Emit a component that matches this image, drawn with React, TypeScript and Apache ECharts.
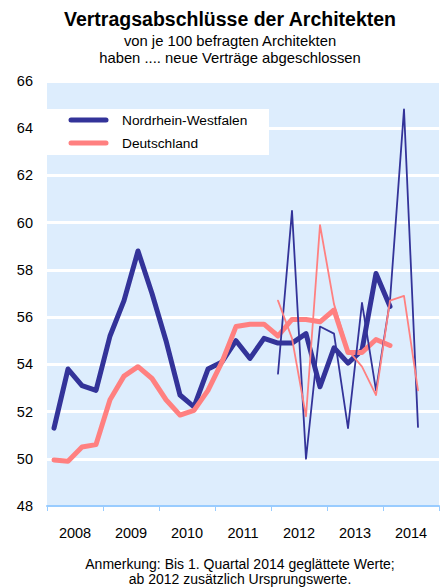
import React, { useEffect, useRef } from 'react';
import * as echarts from 'echarts';

const FONT = '"Liberation Sans", Arial, Helvetica, sans-serif';

const titleText = 'Vertragsabschlüsse der Architekten';
const subtitleLines = ['von je 100 befragten Architekten', 'haben .... neue Verträge abgeschlossen'];
const footnoteLines = ['Anmerkung: Bis 1. Quartal 2014 geglättete Werte;', 'ab 2012 zusätzlich Ursprungswerte.'];

const years = ['2008', '2009', '2010', '2011', '2012', '2013', '2014'];
const quarterNames = ['Q1', 'Q2', 'Q3', 'Q4'];
const quarterLabels = years.flatMap((y) => quarterNames.map((q) => `${y} ${q}`));

const yTicks = { min: 48, max: 66, interval: 2 };

const seriesNames = {
  nrw: 'Nordrhein-Westfalen',
  de: 'Deutschland',
  nrwRaw: 'Nordrhein-Westfalen (Ursprungswerte)',
  deRaw: 'Deutschland (Ursprungswerte)',
};

// geglättete Werte (bis 1. Quartal 2014)
const nrwSmoothed = [
  51.3, 53.8, 53.1, 52.9,
  55.2, 56.7, 58.8, 57.0,
  55.0, 52.7, 52.2, 53.8,
  54.1, 55.0, 54.25, 55.1,
  54.9, 54.9, 55.3, 53.05,
  54.7, 54.05, 54.6, 57.85,
  56.45, null, null, null,
];
const deSmoothed = [
  49.95, 49.9, 50.5, 50.6,
  52.5, 53.5, 53.9, 53.4,
  52.5, 51.85, 52.05, 52.9,
  54.1, 55.6, 55.7, 55.7,
  55.2, 55.9, 55.9, 55.8,
  56.3, 54.5, 54.5, 55.05,
  54.8, null, null, null,
];
// Ursprungswerte (ab 2012)
const nrwRaw = [
  null, null, null, null,
  null, null, null, null,
  null, null, null, null,
  null, null, null, null,
  53.6, 60.5, 50.0, 55.6,
  55.3, 51.3, 56.6, 52.9,
  56.7, 64.8, 51.35, null,
];
const deRaw = [
  null, null, null, null,
  null, null, null, null,
  null, null, null, null,
  null, null, null, null,
  56.7, 55.1, 51.8, 59.9,
  56.55, 54.6, 53.9, 52.7,
  56.7, 56.9, 52.9, null,
];

const NRW_COLOR = '#333399';
const DE_COLOR = '#FF8080';

export default function App() {
  const ref = useRef<HTMLDivElement>(null);

  useEffect(() => {
    if (!ref.current) return;
    const chart = echarts.init(ref.current, undefined, { renderer: 'svg' });

    const lineSeries = (name: string, data: (number | null)[], color: string, width: number, z: number) => ({
      name,
      type: 'line',
      xAxisIndex: 0,
      yAxisIndex: 0,
      data,
      symbol: 'none',
      connectNulls: false,
      z,
      itemStyle: { color },
      lineStyle: { color, width, cap: 'round', join: 'round' },
      emphasis: { disabled: true },
    });

    const textEl = (text: string, x: number, y: number, size: number, bold = false, lineHeight?: number) => ({
      type: 'text',
      x,
      y,
      z: 100,
      silent: true,
      style: {
        text,
        fill: '#000',
        fontSize: size,
        fontWeight: bold ? 'bold' : 'normal',
        fontFamily: FONT,
        align: 'center',
        verticalAlign: 'middle',
        lineHeight,
      },
    });

    chart.setOption({
      animation: false,
      textStyle: { fontFamily: FONT },
      grid: {
        left: 47,
        right: 8,
        top: 81,
        bottom: 81,
        show: true,
        backgroundColor: '#DDEDFD',
        borderWidth: 0,
        containLabel: false,
      },
      xAxis: [
        {
          type: 'category',
          data: quarterLabels,
          boundaryGap: true,
          show: false,
        },
        {
          type: 'category',
          data: years,
          boundaryGap: true,
          position: 'bottom',
          axisLine: { show: true, lineStyle: { color: '#99CCFF', width: 2 } },
          axisTick: { show: true, length: 5, lineStyle: { color: '#99CCFF', width: 1 } },
          axisLabel: { margin: 19, fontSize: 14.5, color: '#000', fontFamily: FONT },
          splitLine: { show: false },
        },
      ],
      yAxis: {
        type: 'value',
        min: yTicks.min,
        max: yTicks.max,
        interval: yTicks.interval,
        axisLine: { show: false },
        axisTick: { show: false },
        axisLabel: { margin: 14, fontSize: 14.5, color: '#000', fontFamily: FONT },
        splitLine: { show: true, lineStyle: { color: '#FFFFFF', width: 3 } },
      },
      series: [
        lineSeries(seriesNames.nrw, nrwSmoothed, NRW_COLOR, 5, 3),
        lineSeries(seriesNames.de, deSmoothed, DE_COLOR, 5, 4),
        lineSeries(seriesNames.nrwRaw, nrwRaw, NRW_COLOR, 1.8, 5),
        lineSeries(seriesNames.deRaw, deRaw, DE_COLOR, 1.8, 6),
      ],
      graphic: [
        textEl(titleText, 230, 19, 19.5, true),
        textEl(subtitleLines[0], 230, 41, 14.8),
        textEl(subtitleLines[1], 230, 58, 14.8),
        textEl(footnoteLines.join('\n'), 240, 571, 14, false, 15),
        {
          type: 'rect',
          z: 90,
          silent: true,
          shape: { x: 47, y: 109, width: 222, height: 46 },
          style: { fill: '#FFFFFF' },
        },
        {
          type: 'line',
          z: 100,
          silent: true,
          shape: { x1: 71, y1: 120, x2: 106, y2: 120 },
          style: { stroke: NRW_COLOR, lineWidth: 5, lineCap: 'round' },
        },
        {
          type: 'line',
          z: 100,
          silent: true,
          shape: { x1: 71, y1: 143, x2: 106, y2: 143 },
          style: { stroke: DE_COLOR, lineWidth: 5, lineCap: 'round' },
        },
        {
          type: 'text',
          x: 122,
          y: 120,
          z: 100,
          silent: true,
          style: { text: seriesNames.nrw, fill: '#000', fontSize: 13.7, fontFamily: FONT, align: 'left', verticalAlign: 'middle' },
        },
        {
          type: 'text',
          x: 122,
          y: 143,
          z: 100,
          silent: true,
          style: { text: seriesNames.de, fill: '#000', fontSize: 13.7, fontFamily: FONT, align: 'left', verticalAlign: 'middle' },
        },
      ],
    });

    return () => {
      chart.dispose();
    };
  }, []);

  return (
    <div
      ref={ref}
      style={{ position: 'absolute', left: 0, top: 0, width: 447, height: 587, background: '#FFFFFF' }}
    />
  );
}
